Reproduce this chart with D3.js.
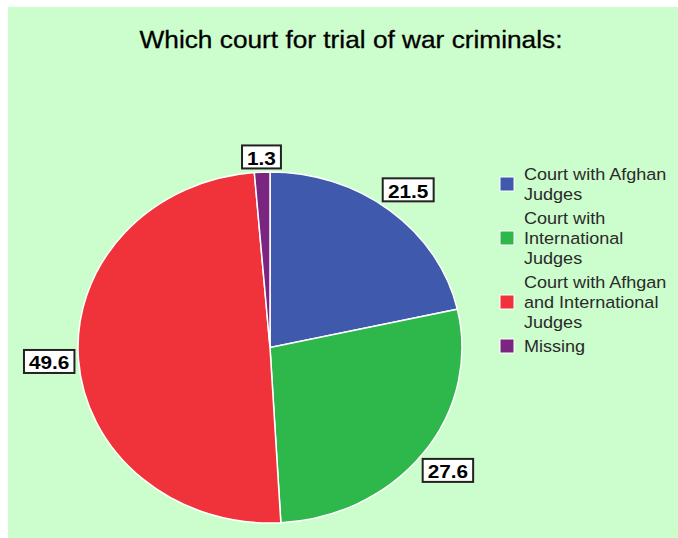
<!DOCTYPE html>
<html><head><meta charset="utf-8">
<script src="https://cdn.jsdelivr.net/npm/d3@7"></script>
<style>html,body{margin:0;padding:0;background:#fff;}svg{display:block;}</style>
</head><body><svg id="c" width="678" height="538"></svg>
<script>
const title = "Which court for trial of war criminals:";
const categories = ["Court with Afghan\nJudges", "Court with\nInternational\nJudges", "Court with Afhgan\nand International\nJudges", "Missing"];
const values = [21.5, 27.6, 49.6, 1.3];
const labels = ["21.5", "27.6", "49.6", "1.3"];
const colors = ["#3f59ad", "#2eb84b", "#f0333b", "#7a2580"];

const sx = 1.094; // horizontal stretch of the original picture
const FONT = "Liberation Sans, Arial, sans-serif";
const svg = d3.select("#c");
svg.append("rect").attr("x", 8).attr("y", 7).attr("width", 670).attr("height", 531).attr("fill", "#ccfdcc");
svg.append("g").attr("transform", `translate(351,48) scale(${sx},1)`)
  .append("text").attr("text-anchor", "middle")
  .attr("font-family", FONT).attr("font-size", 24).attr("fill", "#000")
  .attr("stroke", "#000").attr("stroke-width", 0.3).text(title);

const cx = 270, cy = 347.5, r = 175.5;
const data = categories.map((c, i) => ({c, v: values[i], l: labels[i], col: colors[i]}));
const pie = d3.pie().sort(null).value(d => d.v);
const arcs = pie(data);
const arc = d3.arc().innerRadius(0).outerRadius(r);
const g = svg.append("g").attr("transform", `translate(${cx},${cy}) scale(${sx},1)`);
g.selectAll("path").data(arcs).join("path")
  .attr("d", arc).attr("fill", d => d.data.col)
  .attr("stroke", "#fff").attr("stroke-width", 1.5).attr("vector-effect", "non-scaling-stroke");

// labels
const lg = svg.append("g").attr("transform", `translate(${cx},${cy})`);
arcs.forEach(a => {
  const m = (a.startAngle + a.endAngle) / 2;
  const tg = lg.append("g");
  const rectEl = tg.append("rect");
  const inner = tg.append("g");
  const t = inner.append("text").attr("font-family", FONT)
    .attr("font-size", 19).attr("font-weight", "bold").attr("text-anchor", "middle")
    .attr("dominant-baseline", "central").attr("y", 1).text(a.data.l);
  const bb = t.node().getBBox();
  const hw = bb.width * sx / 2 + 5, hh = 11.5;
  const rl = r + 3 + hh * Math.abs(Math.cos(m)) + (hw / sx) * Math.abs(Math.sin(m));
  const x = sx * rl * Math.sin(m), y = -rl * Math.cos(m);
  inner.attr("transform", `translate(${x},${y}) scale(${sx},1)`);
  rectEl.attr("x", x - hw).attr("y", y - hh).attr("width", 2 * hw).attr("height", 2 * hh)
    .attr("fill", "#fff").attr("stroke", "#222").attr("stroke-width", 2);
});

// legend
const leg = svg.append("g");
let yy = 174;
data.forEach(d => {
  const lines = d.c.split("\n");
  const mid = yy + (lines.length - 1) * 20 / 2;
  leg.append("rect").attr("x", 500).attr("y", mid - 7).attr("width", 14).attr("height", 14)
    .attr("fill", d.col).attr("stroke", "#fff").attr("stroke-width", 1);
  const t = leg.append("g").attr("transform", `translate(524,0) scale(${sx},1)`)
    .append("text").attr("font-family", FONT).attr("font-size", 16.5).attr("fill", "#2a2a2a");
  lines.forEach((ln, i) => t.append("tspan").attr("x", 0).attr("y", yy + i * 20).attr("dominant-baseline", "central").text(ln));
  yy += lines.length * 20 + 4;
});
</script></body></html>
